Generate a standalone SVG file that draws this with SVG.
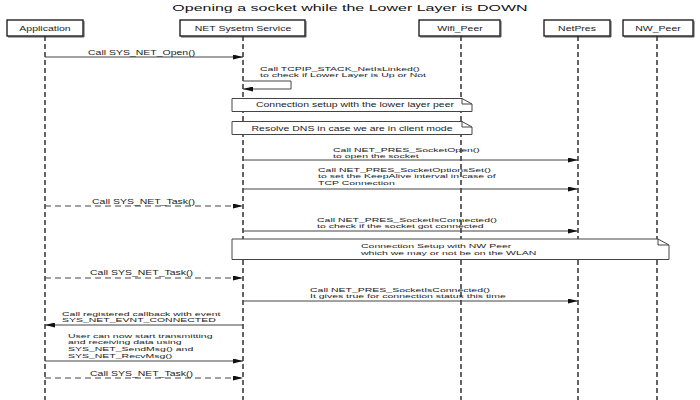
<svg xmlns="http://www.w3.org/2000/svg" width="700" height="400" viewBox="0 0 700 400">
<style>
  text { font-family: "Liberation Sans", Arial, sans-serif; font-size: 10.5px; fill: #222; }
  .title { font-size: 16px; fill: #111; }
  .hdr { fill: #fff; stroke: #111; stroke-width: 1.3; }
  .shadow { fill: none; stroke: #555; stroke-width: 1; }
  .life { stroke: #111; stroke-width: 1.3; stroke-dasharray: 5 3; fill: none; }
  .msg { stroke: #444; stroke-width: 1; fill: none; marker-end: url(#ah); }
  .dash { stroke-dasharray: 6 4; }
  .note { fill: #fff; stroke: #444; stroke-width: 1; }
  .fold { fill: none; stroke: #444; stroke-width: 1; }
</style>
<defs>
  <marker id="ah" markerWidth="10" markerHeight="5" refX="10" refY="2.5" orient="auto" markerUnits="userSpaceOnUse">
    <path d="M0,0 L10,2.5 L0,5 z" fill="#111"/>
  </marker>
</defs>
<rect width="700" height="400" fill="#fff"/>
<text class="title" text-anchor="middle" transform="matrix(1 0 0 0.62 350 11)">Opening a socket while the Lower Layer is DOWN</text>

<g id="lifelines">
  <line class="life" x1="45" y1="36" x2="45" y2="400"/>
  <line class="life" x1="243" y1="36" x2="243" y2="400"/>
  <line class="life" x1="461" y1="36" x2="461" y2="400"/>
  <line class="life" x1="578" y1="36" x2="578" y2="400"/>
  <line class="life" x1="657" y1="36" x2="657" y2="400"/>
</g>

<g id="application">
  <polyline class="shadow" points="84,21 84,37 8,37"/>
  <rect class="hdr" x="7" y="20" width="76" height="16"/>
  <text text-anchor="middle" transform="matrix(1 0 0 0.6 45 30.5)">Application</text>
</g>
<g id="net_service">
  <polyline class="shadow" points="306,21 306,37 181,37"/>
  <rect class="hdr" x="180" y="20" width="125" height="16"/>
  <text text-anchor="middle" transform="matrix(1 0 0 0.6 243 30.5)">NET Sysetm Service</text>
</g>
<g id="wifi_peer">
  <polyline class="shadow" points="501,21 501,37 420,37"/>
  <rect class="hdr" x="419" y="20" width="81" height="16"/>
  <text text-anchor="middle" transform="matrix(1 0 0 0.6 460 30.5)">Wifi_Peer</text>
</g>
<g id="netpres">
  <polyline class="shadow" points="611,21 611,37 545,37"/>
  <rect class="hdr" x="544" y="20" width="66" height="16"/>
  <text text-anchor="middle" transform="matrix(1 0 0 0.6 577 30.5)">NetPres</text>
</g>
<g id="nw_peer">
  <polyline class="shadow" points="694,21 694,37 624,37"/>
  <rect class="hdr" x="623" y="20" width="70" height="16"/>
  <text text-anchor="middle" transform="matrix(1 0 0 0.6 658 30.5)">NW_Peer</text>
</g>

<g id="note_lower_layer">
  <path class="note" d="M232,98.5 H462 L472,104 V111.5 H232 Z"/>
  <path class="fold" d="M462,98.5 V104 H472"/>
  <text text-anchor="middle" transform="matrix(1 0 0 0.6 355 107)">Connection setup with the lower layer peer</text>
</g>
<g id="note_dns">
  <path class="note" d="M232,121.5 H462 L472,127 V134.5 H232 Z"/>
  <path class="fold" d="M462,121.5 V127 H472"/>
  <text text-anchor="middle" transform="matrix(1 0 0 0.6 352 130.5)">Resolve DNS in case we are in client mode</text>
</g>
<g id="note_nw_peer">
  <path class="note" d="M232,239 H658 L669,245 V259.5 H232 Z"/>
  <path class="fold" d="M658,239 V245 H669"/>
  <text transform="matrix(1 0 0 0.57 361 248.3)">Connection Setup with NW Peer<tspan x="0" dy="11.75">which we may or not be on the WLAN</tspan></text>
</g>

<g id="connectors">
  <line class="msg" x1="45" y1="57" x2="243" y2="57"/>
  <text transform="matrix(1 0 0 0.6 88 54.5)">Call SYS_NET_Open()</text>

  <path class="msg" d="M243,81 H291 V89 H243"/>
  <text transform="matrix(1 0 0 0.57 260 70.8)">Call TCPIP_STACK_NetIsLinked()<tspan x="0" dy="11.75">to check if Lower Layer is Up or Not</tspan></text>

  <line class="msg" x1="243" y1="160" x2="578" y2="160"/>
  <text transform="matrix(1 0 0 0.57 333 151.5)">Call NET_PRES_SocketOpen()<tspan x="0" dy="11.75">to open the socket</tspan></text>

  <line class="msg" x1="243" y1="189" x2="578" y2="189"/>
  <text transform="matrix(1 0 0 0.57 318 171.5)">Call NET_PRES_SocketOptionsSet()<tspan x="0" dy="11.75">to set the KeepAlive interval in case of</tspan><tspan x="0" dy="11.75">TCP Connection</tspan></text>

  <line class="msg dash" x1="45" y1="206" x2="243" y2="206"/>
  <text transform="matrix(1 0 0 0.6 92 204)">Call SYS_NET_Task()</text>

  <line class="msg" x1="243" y1="231" x2="578" y2="231"/>
  <text transform="matrix(1 0 0 0.57 317 221.5)">Call NET_PRES_SocketIsConnected()<tspan x="0" dy="11.75">to check if the socket got connected</tspan></text>

  <line class="msg dash" x1="45" y1="278" x2="243" y2="278"/>
  <text transform="matrix(1 0 0 0.6 90 275)">Call SYS_NET_Task()</text>

  <line class="msg" x1="243" y1="301" x2="578" y2="301"/>
  <text transform="matrix(1 0 0 0.57 310 291.5)">Call NET_PRES_SocketIsConnected()<tspan x="0" dy="11.75">It gives true for connection status this time</tspan></text>

  <line class="msg" x1="243" y1="325" x2="45" y2="325"/>
  <text transform="matrix(1 0 0 0.57 62 315.5)">Call registered callback with event<tspan x="0" dy="11.75">SYS_NET_EVNT_CONNECTED</tspan></text>

  <line class="msg" x1="45" y1="361" x2="243" y2="361"/>
  <text transform="matrix(1 0 0 0.57 68 337.5)">User can now start transmitting<tspan x="0" dy="11.75">and  receiving data using</tspan><tspan x="0" dy="11.75">SYS_NET_SendMsg() and</tspan><tspan x="0" dy="11.75">SYS_NET_RecvMsg()</tspan></text>

  <line class="msg dash" x1="45" y1="378" x2="243" y2="378"/>
  <text transform="matrix(1 0 0 0.6 90 376)">Call SYS_NET_Task()</text>
</g>
</svg>
